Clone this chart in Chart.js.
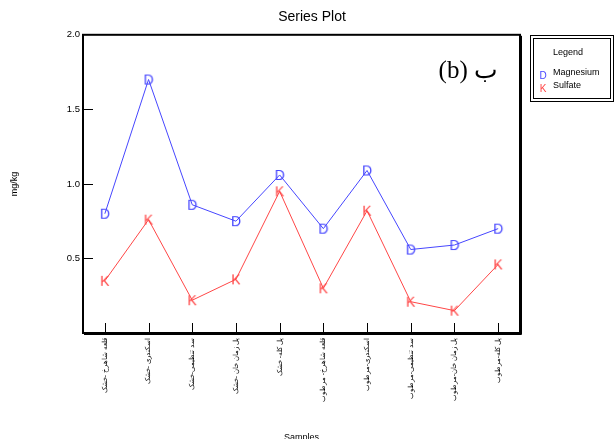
<!DOCTYPE html>
<html>
<head>
<meta charset="utf-8">
<script src="https://cdn.jsdelivr.net/npm/chart.js@4.4.1/dist/chart.umd.min.js"></script>
<style>
  body { margin: 0; background: #fff; }
</style>
</head>
<body>
<canvas id="graph" width="615" height="439"></canvas>
<script>
// data

var samples = [
  "قلعه شاهرخ -خشک",
  "اسکندری -خشک",
  "سد تنظیمی-خشک",
  "پل زمان خان -خشک",
  "پل کله- خشک",
  "قلعه شاهرخ- مرطوب",
  "اسکندری-مرطوب",
  "سد تنظیمی-مرطوب",
  "پل زمان خان-مرطوب",
  "پل کله-مرطوب"
];
var magnesium = [0.80, 1.70, 0.86, 0.75, 1.06, 0.70, 1.09, 0.56, 0.59, 0.70];
var sulfate = [0.35, 0.76, 0.22, 0.36, 0.95, 0.30, 0.82, 0.21, 0.15, 0.46];
var yTicks = [0.5, 1.0, 1.5, 2.0];

var blue = "#4646ff";
var red = "#ff4646";

// letter markers (D / K) like the original plot
function letterMarker(ch, color, size) {
  var c = document.createElement("canvas");
  c.width = size + 4;
  c.height = size + 4;
  var g = c.getContext("2d");
  g.font = size + "px Arial";
  g.fillStyle = color;
  g.textAlign = "center";
  g.textBaseline = "middle";
  g.fillText(ch, c.width / 2, c.height / 2 + 1);
  return c;
}

var markD = letterMarker("D", blue, 14);
var markK = letterMarker("K", red, 14);

// frame, inward ticks, annotation and legend box
var framePlugin = {
  id: "frame",
  afterDraw: function (chart) {
    var ctx = chart.ctx;
    var a = chart.chartArea;
    var xs = chart.scales.x;
    var ys = chart.scales.y;
    ctx.save();
    ctx.strokeStyle = "#000";
    ctx.lineWidth = 2;
    ctx.strokeRect(a.left, a.top, a.right - a.left, a.bottom - a.top);
    ctx.lineWidth = 1;
    ctx.beginPath();
    ctx.moveTo(a.right + 1.5, a.top + 1);
    ctx.lineTo(a.right + 1.5, a.bottom + 1.5);
    ctx.lineTo(a.left + 1, a.bottom + 1.5);
    ctx.stroke();

    // ticks pointing into the plot
    ctx.lineWidth = 1;
    ctx.beginPath();
    for (var i = 0; i < samples.length; i++) {
      var px = Math.round(xs.getPixelForValue(i)) + 0.5;
      ctx.moveTo(px, a.bottom);
      ctx.lineTo(px, a.bottom - 10);
    }
    for (var j = 0; j < yTicks.length - 1; j++) {
      var py = Math.round(ys.getPixelForValue(yTicks[j])) + 0.5;
      ctx.moveTo(a.left, py);
      ctx.lineTo(a.left + 10, py);
    }
    ctx.stroke();

    // panel label
    ctx.fillStyle = "#000";
    ctx.font = "25px 'Liberation Serif', 'DejaVu Serif', serif";
    ctx.textAlign = "right";
    ctx.textBaseline = "alphabetic";
    ctx.fillText("(b) ب", a.right - 22, 78);

    // legend box
    ctx.lineWidth = 1;
    ctx.strokeRect(530.5, 35.5, 83, 66);
    ctx.strokeRect(533.5, 38.5, 77, 60);
    ctx.font = "9px Arial";
    ctx.textAlign = "center";
    ctx.textBaseline = "middle";
    ctx.fillText("Legend", 568, 53);
    chart.data.datasets.forEach(function (ds, k) {
      var ly = 73 + k * 13;
      var m = letterMarker(k === 0 ? "D" : "K", ds.borderColor, 10);
      ctx.drawImage(m, 543 - m.width / 2, ly + 2 - m.height / 2);
      ctx.fillStyle = "#000";
      ctx.textAlign = "left";
      ctx.fillText(ds.label, 553, ly);
    });
    ctx.restore();
  }
};

var chart = new Chart(document.getElementById("graph").getContext("2d"), {
  type: "line",
  data: {
    labels: samples,
    datasets: [
      {
        label: "Magnesium",
        data: magnesium,
        borderColor: blue,
        borderWidth: 1,
        pointStyle: markD,
        tension: 0
      },
      {
        label: "Sulfate",
        data: sulfate,
        borderColor: red,
        borderWidth: 1,
        pointStyle: markK,
        tension: 0
      }
    ]
  },
  options: {
    responsive: false,
    animation: false,
    layout: {
      padding: { left: 9, right: 0, top: 0, bottom: -4 }
    },
    plugins: {
      title: {
        display: true,
        text: "Series Plot",
        color: "#000",
        font: { family: "Arial", size: 14, weight: "normal" },
        padding: { top: 9, bottom: 9 }
      },
      legend: { display: false },
      tooltip: { enabled: false }
    },
    scales: {
      x: {
        type: "category",
        offset: true,
        grid: { display: false, drawTicks: false },
        border: { display: false },
        ticks: {
          autoSkip: false,
          minRotation: 90,
          maxRotation: 90,
          padding: 5,
          color: "#000",
          font: { family: "Arial", size: 7 }
        },
        title: {
          display: true,
          text: "Samples",
          color: "#000",
          font: { family: "Arial", size: 9 },
          padding: { top: 0, bottom: 0 }
        },
        afterFit: function (scale) {
          scale.height = 110;
        }
      },
      y: {
        min: 0,
        max: 2,
        grid: { display: false, drawTicks: false },
        border: { display: false },
        afterBuildTicks: function (scale) {
          scale.ticks = yTicks.map(function (v) { return { value: v }; });
        },
        ticks: {
          padding: 3,
          color: "#000",
          font: { family: "Arial", size: 9.5 },
          callback: function (v) { return Number(v).toFixed(1); }
        },
        title: {
          display: true,
          text: "mg/kg",
          color: "#000",
          font: { family: "Arial", size: 9 },
          padding: { top: 0, bottom: 0 }
        },
        afterFit: function (scale) {
          scale.width = 74;
        }
      },
      // empty right axis keeps room for the legend box
      yRight: {
        position: "right",
        display: true,
        grid: { display: false, drawTicks: false },
        border: { display: false },
        ticks: { display: false },
        afterFit: function (scale) {
          scale.width = 95;
        }
      }
    }
  },
  plugins: [framePlugin]
});
</script>
</body>
</html>
